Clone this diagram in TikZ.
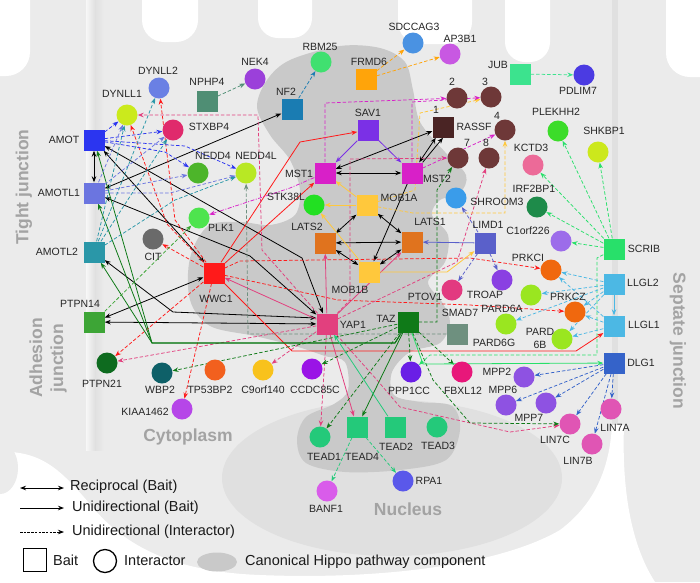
\documentclass[tikz,border=0pt]{standalone}
\usepackage{fontspec}
\setmainfont{Liberation Sans}
\usetikzlibrary{arrows.meta,calc,shapes.geometric}
\pgfdeclarelayer{bg}\pgfdeclarelayer{edges}
\pgfsetlayers{bg,edges,main}
\definecolor{cellgray}{HTML}{EBEBEB}
\definecolor{nucgray}{HTML}{E0E0E0}
\definecolor{blob}{HTML}{C9C9C9}
\definecolor{regtext}{HTML}{A3A3A3}
\definecolor{cAMOT}{HTML}{2B35F0}
\definecolor{cAMOTLa}{HTML}{6B75E0}
\definecolor{cAMOTLb}{HTML}{2A97A8}
\definecolor{cPTPNa}{HTML}{3DA536}
\definecolor{cPTPNb}{HTML}{0E6B1F}
\definecolor{cWBP}{HTML}{0E6068}
\definecolor{cTPBP}{HTML}{F2601E}
\definecolor{cCnine}{HTML}{F8C21C}
\definecolor{cCCDC}{HTML}{9A14E6}
\definecolor{cPPP}{HTML}{6A1EE6}
\definecolor{cFBXL}{HTML}{E8177A}
\definecolor{cKIAA}{HTML}{B646E8}
\definecolor{cDYNb}{HTML}{6A80E4}
\definecolor{cDYNa}{HTML}{CBEA1C}
\definecolor{cNPHP}{HTML}{4F8E74}
\definecolor{cSTX}{HTML}{E02A6C}
\definecolor{cNEDD}{HTML}{4DB52A}
\definecolor{cNEDDL}{HTML}{B8E824}
\definecolor{cNEK}{HTML}{9B40DA}
\definecolor{cNF}{HTML}{1A7CB2}
\definecolor{cRBM}{HTML}{40E070}
\definecolor{cFRMD}{HTML}{FFA40A}
\definecolor{cSDC}{HTML}{4A92E2}
\definecolor{cAPB}{HTML}{C858E2}
\definecolor{cSAV}{HTML}{7B30E6}
\definecolor{cMST}{HTML}{D820C8}
\definecolor{cRASSF}{HTML}{4A2424}
\definecolor{cRASc}{HTML}{6E3838}
\definecolor{cJUB}{HTML}{3CE38E}
\definecolor{cPDL}{HTML}{4B3BE2}
\definecolor{cPLEK}{HTML}{3CDC2A}
\definecolor{cSHK}{HTML}{CCE81C}
\definecolor{cKCTD}{HTML}{EC6A98}
\definecolor{cIRF}{HTML}{1E8B4A}
\definecolor{cCorf}{HTML}{9C6CEA}
\definecolor{cSCRIB}{HTML}{28E06A}
\definecolor{cLLGL}{HTML}{4CB8E4}
\definecolor{cDLG}{HTML}{3563C9}
\definecolor{cPRKC}{HTML}{F0680E}
\definecolor{cTROAP}{HTML}{8A40E2}
\definecolor{cPARD}{HTML}{9AE620}
\definecolor{cLIMD}{HTML}{5A60CA}
\definecolor{cSHR}{HTML}{3A9CEA}
\definecolor{cSMAD}{HTML}{6E907F}
\definecolor{cMPP}{HTML}{8E52E2}
\definecolor{cLIN}{HTML}{E055B4}
\definecolor{cSTK}{HTML}{22E022}
\definecolor{cMOB}{HTML}{FFC83C}
\definecolor{cLATS}{HTML}{E0731E}
\definecolor{cWWC}{HTML}{FF1A1A}
\definecolor{cCIT}{HTML}{6A6A6A}
\definecolor{cPLK}{HTML}{4EE44E}
\definecolor{cYAP}{HTML}{E2407E}
\definecolor{cTAZ}{HTML}{0F7A18}
\definecolor{cPTOV}{HTML}{E23A80}
\definecolor{cTEAD}{HTML}{24C97A}
\definecolor{cBANF}{HTML}{D95CEA}
\definecolor{cRPA}{HTML}{5A58EA}
\begin{document}
\begin{tikzpicture}[x=1pt,y=-1pt,
  sq/.style={rectangle,minimum size=21pt,inner sep=0pt,fill=#1},
  ci/.style={circle,minimum size=21pt,inner sep=0pt,fill=#1},
  lab/.style={font=\fontsize{10.5}{12}\selectfont,inner sep=0pt,text=black!85},
  reg/.style={font=\fontsize{17.5}{20}\selectfont\bfseries,inner sep=0pt,text=regtext},
  leg/.style={font=\fontsize{14.5}{16}\selectfont,inner sep=0pt,anchor=west,text=black!90},
  uni/.style={line width=0.8pt,-{Stealth[length=6pt,width=4.5pt]}},
  rec/.style={line width=0.8pt,{Stealth[length=6pt,width=4.5pt]}-{Stealth[length=6pt,width=4.5pt]}},
  dsh/.style={line width=0.75pt,dash pattern=on 3.5pt off 2pt,-{Stealth[length=6pt,width=4.5pt]}}]
\useasboundingbox (0,0) rectangle (700,582);

% ---------------- background ----------------
\begin{pgfonlayer}{bg}
\begin{scope}
\clip (0,0) rectangle (700,582);
\fill[cellgray] (0,0) rectangle (700,582);
\fill[white,rounded corners=24pt] (-40,-40) rectangle (30,76);
\fill[white,rounded corners=22pt] (142,-40) rectangle (198,42);
\fill[white,rounded corners=20pt] (258,-40) rectangle (312,38);
\fill[white,rounded corners=22pt] (398,-40) rectangle (472,44);
\fill[white,rounded corners=20pt] (505,-40) rectangle (550,62);
\fill[white,rounded corners=24pt] (666,-40) rectangle (740,77);
\shade[left color=white!60!cellgray,right color=black!12] (86,0) rectangle (95,450);
\shade[left color=black!12,right color=cellgray] (95,0) rectangle (104,450);
\fill[black!12] (612,0) rectangle (618,430);
\fill[white] (0,452) .. controls (45,450) and (65,475) .. (95,510)
  .. controls (130,550) and (180,572) .. (260,575)
  .. controls (380,580) and (500,565) .. (560,530)
  .. controls (600,500) and (610,460) .. (612,425) -- (624,425)
  .. controls (622,480) and (628,540) .. (655,582) -- (0,582) -- cycle;
\fill[cellgray] (0,468) ellipse [x radius=18,y radius=26];
\fill[nucgray] (392,478) ellipse [x radius=170,y radius=78];
\fill[blob] plot[smooth cycle,tension=0.55] coordinates {
 (257,107) (267,80) (290,60) (340,46) (380,48) (405,62) (413,90) (420,122)
 (445,152) (466,175) (460,193) (440,200) (432,215) (448,235) (445,262)
 (428,282) (442,302) (450,322) (440,343) (410,352) (392,372) (394,395)
 (420,402) (452,406) (460,430) (446,460) (400,470) (345,472) (306,463)
 (297,440) (306,417) (334,404) (348,390) (345,362) (325,356) (295,346)
 (255,336) (210,326) (190,300) (190,258) (208,226) (240,222) (270,225)
 (295,215) (300,190) (290,160) (270,135)};
\end{scope}
\end{pgfonlayer}

% region labels
\node[reg,rotate=90] (tTight) at (24,187) {Tight junction};
\node[reg,rotate=90,align=center,font=\fontsize{17.5}{21}\selectfont\bfseries] (tAdh) at (48,358) {Adhesion\\junction};
\node[reg,rotate=-90] (tSept) at (678,341) {Septate junction};
\node[reg] (tCyto) at (188,437) {Cytoplasm};
\node[reg] (tNuc) at (408,509) {Nucleus};

% ---------------- nodes ----------------
\node[sq=cAMOT] (AMOT) at (94,140) {};
\node[sq=cAMOTLa] (AMOTL1) at (94,193) {};
\node[sq=cAMOTLb] (AMOTL2) at (94,252) {};
\node[sq=cPTPNa] (PTPN14) at (94,322) {};
\node[ci=cPTPNb] (PTPN21) at (107,363) {};
\node[ci=cWBP] (WBP2) at (162,373) {};
\node[ci=cTPBP] (TP53BP2) at (215,370) {};
\node[ci=cCnine] (C9orf140) at (263,370) {};
\node[ci=cCCDC] (CCDC85C) at (312,369) {};
\node[ci=cPPP] (PPP1CC) at (411,372) {};
\node[ci=cFBXL] (FBXL12) at (462,372) {};
\node[ci=cKIAA] (KIAA1462) at (182,409) {};
\node[ci=cDYNb] (DYNLL2) at (159,88) {};
\node[ci=cDYNa] (DYNLL1) at (127,115) {};
\node[sq=cNPHP] (NPHP4) at (207,101) {};
\node[ci=cSTX] (STXBP4) at (173,130) {};
\node[ci=cNEDD] (NEDD4) at (198,173) {};
\node[ci=cNEDDL] (NEDD4L) at (246,173) {};
\node[ci=cNEK] (NEK4) at (255,79) {};
\node[sq=cNF] (NF2) at (292,109) {};
\node[ci=cRBM] (RBM25) at (321,62) {};
\node[sq=cFRMD] (FRMD6) at (366,79) {};
\node[ci=cSDC] (SDCCAG3) at (413,43) {};
\node[ci=cAPB] (AP3B1) at (450,54) {};
\node[sq=cSAV] (SAV1) at (368,130) {};
\node[sq=cMST] (MST1) at (325,173) {};
\node[sq=cMST] (MST2) at (412,173) {};
\node[sq=cRASSF] (RASSF) at (443,127) {};
\node[ci=cRASc] (R2) at (457,98) {};
\node[ci=cRASc] (R3) at (491,97) {};
\node[ci=cRASc] (R4) at (505,130) {};
\node[ci=cRASc] (R7) at (458,158) {};
\node[ci=cRASc] (R8) at (489,158) {};
\node[sq=cJUB] (JUB) at (520,74) {};
\node[ci=cPDL] (PDLIM7) at (584,75) {};
\node[ci=cPLEK] (PLEKHH2) at (558,131) {};
\node[ci=cSHK] (SHKBP1) at (598,152) {};
\node[ci=cKCTD] (KCTD3) at (533,165) {};
\node[ci=cIRF] (IRF2BP1) at (537,207) {};
\node[ci=cSHR] (SHROOM3) at (456,198) {};
\node[sq=cLIMD] (LIMD1) at (485,243) {};
\node[ci=cCorf] (C1orf226) at (561,241) {};
\node[sq=cSCRIB] (SCRIB) at (614,249) {};
\node[sq=cLLGL] (LLGL2) at (614,284) {};
\node[sq=cLLGL] (LLGL1) at (614,326) {};
\node[sq=cDLG] (DLG1) at (614,363) {};
\node[ci=cPRKC] (PRKCI) at (551,270) {};
\node[ci=cPRKC] (PRKCZ) at (575,312) {};
\node[ci=cTROAP] (TROAP) at (502,280) {};
\node[ci=cPTOV] (PTOV1) at (452,290) {};
\node[ci=cPARD] (PARD6A) at (531,295) {};
\node[ci=cPARD] (PARD6G) at (506,324) {};
\node[ci=cPARD] (PARD6B) at (562,339) {};
\node[sq=cSMAD] (SMAD7) at (457,334) {};
\node[ci=cMPP] (MPP2) at (524,377) {};
\node[ci=cMPP] (MPP6) at (506,405) {};
\node[ci=cMPP] (MPP7) at (546,403) {};
\node[ci=cLIN] (LIN7C) at (570,424) {};
\node[ci=cLIN] (LIN7A) at (611,409) {};
\node[ci=cLIN] (LIN7B) at (592,444) {};
\node[ci=cSTK] (STK38L) at (314,205) {};
\node[sq=cMOB] (MOB1A) at (367,205) {};
\node[sq=cLATS] (LATS2) at (325,243) {};
\node[sq=cLATS] (LATS1) at (412,242) {};
\node[sq=cMOB] (MOB1B) at (369,272) {};
\node[sq=cWWC] (WWC1) at (214,273) {};
\node[ci=cCIT] (CIT) at (153,239) {};
\node[ci=cPLK] (PLK1) at (199,218) {};
\node[sq=cYAP] (YAP1) at (327,324) {};
\node[sq=cTAZ] (TAZ) at (408,322) {};
\node[ci=cTEAD] (TEAD1) at (320,437) {};
\node[sq=cTEAD] (TEAD4) at (357,427) {};
\node[sq=cTEAD] (TEAD2) at (395,427) {};
\node[ci=cTEAD] (TEAD3) at (437,427) {};
\node[ci=cBANF] (BANF1) at (327,491) {};
\node[ci=cRPA] (RPA1) at (403,481) {};

% ---------------- labels ----------------
\node[lab] (tAMOT) at (64,140) {AMOT};
\node[lab] (tAMOTL1) at (59,193) {AMOTL1};
\node[lab] (tAMOTL2) at (57,252) {AMOTL2};
\node[lab] (tPTPN14) at (80,304) {PTPN14};
\node[lab] (tPTPN21) at (102,384) {PTPN21};
\node[lab] (tWBP2) at (160,390) {WBP2};
\node[lab] (tTP53BP2) at (210,390) {TP53BP2};
\node[lab] (tC9orf140) at (263,390) {C9orf140};
\node[lab] (tCCDC85C) at (315,390) {CCDC85C};
\node[lab] (tPPP1CC) at (409,391) {PPP1CC};
\node[lab] (tFBXL12) at (463,391) {FBXL12};
\node[lab] (tKIAA1462) at (145,412) {KIAA1462};
\node[lab] (tDYNLL2) at (158,71) {DYNLL2};
\node[lab] (tDYNLL1) at (122,94) {DYNLL1};
\node[lab] (tNPHP4) at (207,82) {NPHP4};
\node[lab] (tSTXBP4) at (209,127) {STXBP4};
\node[lab] (tNEDD4) at (213,156) {NEDD4};
\node[lab] (tNEDD4L) at (256,156) {NEDD4L};
\node[lab] (tNEK4) at (255,62) {NEK4};
\node[lab] (tNF2) at (286,92) {NF2};
\node[lab] (tRBM25) at (320,47) {RBM25};
\node[lab] (tFRMD6) at (369,62) {FRMD6};
\node[lab] (tSDCCAG3) at (414,27) {SDCCAG3};
\node[lab] (tAP3B1) at (460,39) {AP3B1};
\node[lab] (tSAV1) at (368,113) {SAV1};
\node[lab] (tMST1) at (299,174) {MST1};
\node[lab] (tMST2) at (437,179) {MST2};
\node[lab] (tR1) at (436,110) {1};
\node[lab] (tRASSF) at (474,127) {RASSF};
\node[lab] (tR2) at (452,82) {2};
\node[lab] (tR3) at (485,82) {3};
\node[lab] (tR4) at (497,116) {4};
\node[lab] (tR7) at (467,143) {7};
\node[lab] (tR8) at (486,143) {8};
\node[lab] (tJUB) at (498,65) {JUB};
\node[lab] (tPDLIM7) at (578,91) {PDLIM7};
\node[lab] (tPLEKHH2) at (556,112) {PLEKHH2};
\node[lab] (tSHKBP1) at (604,131) {SHKBP1};
\node[lab] (tKCTD3) at (531,148) {KCTD3};
\node[lab] (tIRF2BP1) at (534,189) {IRF2BP1};
\node[lab] (tSHROOM3) at (497,202) {SHROOM3};
\node[lab] (tLIMD1) at (488,225) {LIMD1};
\node[lab] (tC1orf226) at (528,231) {C1orf226};
\node[lab] (tSCRIB) at (644,249) {SCRIB};
\node[lab] (tLLGL2) at (643,283) {LLGL2};
\node[lab] (tLLGL1) at (644,325) {LLGL1};
\node[lab] (tDLG1) at (641,363) {DLG1};
\node[lab] (tPRKCI) at (528,258) {PRKCI};
\node[lab] (tPRKCZ) at (568,297) {PRKCZ};
\node[lab] (tTROAP) at (485,295) {TROAP};
\node[lab] (tPTOV1) at (425,297) {PTOV1};
\node[lab] (tPARD6A) at (502,309) {PARD6A};
\node[lab] (tPARD6G) at (494,343) {PARD6G};
\node[lab,align=center,font=\fontsize{10.5}{13}\selectfont] (tPARD6B) at (540,338) {PARD\\6B};
\node[lab] (tSMAD7) at (460,313) {SMAD7};
\node[lab] (tMPP2) at (497,372) {MPP2};
\node[lab] (tMPP6) at (503,390) {MPP6};
\node[lab] (tMPP7) at (529,418) {MPP7};
\node[lab] (tLIN7C) at (555,440) {LIN7C};
\node[lab] (tLIN7A) at (615,428) {LIN7A};
\node[lab] (tLIN7B) at (578,461) {LIN7B};
\node[lab] (tSTK38L) at (286,197) {STK38L};
\node[lab] (tMOB1A) at (399,198) {MOB1A};
\node[lab] (tLATS2) at (307,227) {LATS2};
\node[lab] (tLATS1) at (430,222) {LATS1};
\node[lab] (tMOB1B) at (350,290) {MOB1B};
\node[lab] (tWWC1) at (216,299) {WWC1};
\node[lab] (tCIT) at (153,257) {CIT};
\node[lab] (tPLK1) at (221,228) {PLK1};
\node[lab] (tYAP1) at (353,325) {YAP1};
\node[lab] (tTAZ) at (386,319) {TAZ};
\node[lab] (tTEAD1) at (324,457) {TEAD1};
\node[lab] (tTEAD4) at (362,457) {TEAD4};
\node[lab] (tTEAD2) at (396,447) {TEAD2};
\node[lab] (tTEAD3) at (438,446) {TEAD3};
\node[lab] (tBANF1) at (326,509) {BANF1};
\node[lab] (tRPA1) at (429,481) {RPA1};

% ---------------- edges ----------------
\begin{pgfonlayer}{edges}
% black (bait)
\draw[rec] (AMOT) -- (AMOTL1);
\draw[rec] (AMOTL1) -- (NF2);
\draw[rec] (AMOT) -- (WWC1);
\draw[rec] (AMOT) -- (302,258) -- (YAP1);
\draw[rec] (AMOTL1) -- (250,256) -- (YAP1);
\draw[rec] (AMOTL2) -- (173,312) -- ($(YAP1.west)+(0,-6)$);
\draw[rec] (PTPN14) -- (YAP1);
\draw[rec] (PTPN14) -- (WWC1);
\draw[rec] (MST1) -- (MST2);
\draw[rec] (MST1) -- (RASSF);
\draw[rec] (MST2) -- (RASSF);
\draw[uni] (MST2.north east) -- (RASSF.south);
\draw[rec] (MOB1A) -- (LATS2);
\draw[rec] (MOB1A) -- (LATS1);
\draw[rec] (LATS2) -- (LATS1);
\draw[rec] (LATS2) -- (MOB1B);
\draw[rec] (LATS1) -- (MOB1B);
\draw[uni] (MST2) -- (MOB1B);
% SAV1
\draw[uni,cSAV] (SAV1) -- (MST1);
\draw[uni,cSAV] (SAV1) -- (MST2);
% WWC1
\draw[uni,cWWC] (WWC1) -- (300,142) -- (SAV1);
\draw[uni,cWWC] (WWC1) -- (MST1);
\draw[uni,cWWC] (WWC1) -- (292,351) -- (576,351) -- (LLGL1);
\draw[dsh,cWWC] (WWC1) -- (175,220) -- (DYNLL2);
\draw[dsh,cWWC] (WWC1) -- (167,224) -- (DYNLL1);
\draw[dsh,cWWC] (WWC1) -- (CIT);
\draw[dsh,cWWC] (WWC1) -- (PTPN21);
\draw[dsh,cWWC] (WWC1) -- (KIAA1462);
\draw[dsh,cWWC] (WWC1) -- (240,261) -- (470,258) -- (PRKCI);
\draw[dsh,cWWC] (WWC1) -- (338,300) -- (470,305) -- (PRKCZ);
% YAP1
\draw[uni,cYAP] (YAP1) -- (LATS2);
\draw[uni,cYAP] (YAP1) -- (LATS1);
\draw[uni,cYAP] (YAP1) -- (TEAD4);
\draw[uni,cYAP] (YAP1) -- (WWC1);
\draw[dsh,cYAP] (YAP1) -- (PTPN21);
\draw[dsh,cYAP] (YAP1) -- (C9orf140);
\draw[dsh,cYAP] (YAP1) -- (TEAD1);
\draw[dsh,cYAP] (YAP1) -- (377,380) -- (400,407) -- (510,432) -- (LIN7C);
\draw[dsh,cYAP] (YAP1) -- (262,250) -- (258,115) -- (DYNLL1);
\draw[dsh,cYAP] (YAP1) -- (350,300) -- (350,159) -- (R7);
\draw[dsh,cYAP] (YAP1) -- (457,262) -- (R8);
% TAZ
\draw[uni,cTAZ] (TAZ) -- (395,343) -- (152,343) -- (AMOT);
\draw[uni,cTAZ] (TAZ) -- (395,343) -- (152,343) -- (AMOTL1);
\draw[uni,cTAZ] (TAZ) -- (395,343) -- (152,343) -- (AMOTL2);
\draw[uni,cTAZ] (TAZ) -- (TEAD4);
\draw[dsh,cTAZ] (TAZ) -- (TEAD1);
\draw[dsh,cTAZ] (TAZ) -- (PPP1CC);
\draw[dsh,cTAZ] (TAZ) -- (FBXL12);
\draw[dsh,cTAZ] (TAZ) -- (WBP2);
\draw[dsh,cTAZ] (TAZ) -- (CCDC85C);
\draw[dsh,cTAZ] (TAZ) -- (433,380) -- (470,423) -- (LIN7C);
\draw[dsh,cTAZ] (TAZ.east) -- (437,322) -- (437,190) -- (R7);
% TEAD
\draw[uni,cTEAD] (TEAD2) -- (YAP1);
\draw[dsh,cTEAD] (TEAD4) -- (BANF1);
\draw[dsh,cTEAD] (TEAD4) -- (RPA1);
% others
\draw[dsh,cPTPNa] (PTPN14) -- (PLK1);
\draw[dsh,cSMAD] (SMAD7) -- (248,334) -- (NEDD4L);
\draw[uni,cLIMD] (LIMD1) -- (LATS1);
\draw[dsh,cLIMD] (LIMD1) -- (SHROOM3);
\draw[dsh,cLIMD] (LIMD1) -- (PTOV1);
\draw[dsh,cLIMD] (LIMD1) -- (TROAP);
\draw[uni,cMOB] (MOB1A) -- (STK38L);
\draw[uni,cMOB] (MOB1B) -- (STK38L);
\draw[uni,cMOB] (MOB1A) -- (MST1);
\draw[uni,cMOB] (MOB1B) -- (447,272) -- (LIMD1);
\draw[dsh,cMOB] (MOB1A) -- (413,213) -- (505,213) -- (R4);
\draw[dsh,cMOB] (MOB1A) -- (415,190) -- (420,113) -- (R3);
\draw[dsh,cMST] (MST1.north) -- (325,103) -- (R2);
\draw[dsh,cMST] (MST2.north) -- (412,102) -- (R3);
\draw[dsh,cMST] (MST2) -- (R4);
\draw[dsh,cMST,dash pattern=on 4pt off 1.5pt on 1pt off 1.5pt] (MST1) -- (290,188) -- (PLK1);
\draw[dsh,cFRMD] (FRMD6) -- (SDCCAG3);
\draw[dsh,cFRMD] (FRMD6) -- (AP3B1);
\draw[dsh,cNF] (NF2) -- (RBM25);
\draw[dsh,cNPHP] (NPHP4) -- (NEK4);
\draw[dsh,cJUB] (JUB) -- (PDLIM7);
% AMOT family
\draw[dsh,cAMOT] (AMOT) -- (DYNLL1);
\draw[dsh,cAMOT] (AMOT) -- (STXBP4);
\draw[dsh,cAMOT] (AMOT) -- (165,152) -- (NEDD4);
\draw[dsh,cAMOT] (AMOT) -- (185,146) -- (NEDD4L);
\draw[dsh,cAMOTLa] (AMOTL1) -- (DYNLL1);
\draw[dsh,cAMOTLa] (AMOTL1) -- (STXBP4);
\draw[dsh,cAMOTLa] (AMOTL1) -- (NEDD4);
\draw[dsh,cAMOTLa] (AMOTL1) -- (170,193) -- (NEDD4L);
\draw[dsh,cAMOTLb] (AMOTL2) -- (DYNLL2);
\draw[dsh,cAMOTLb] (AMOTL2) -- (DYNLL1);
\draw[dsh,cAMOTLb] (AMOTL2) -- (STXBP4);
\draw[dsh,cAMOTLb] (AMOTL2) -- (175,200) -- (NEDD4L);
% SCRIB
\foreach \t in {PLEKHH2,SHKBP1,KCTD3,IRF2BP1,C1orf226}
  \draw[dsh,cSCRIB] (SCRIB) -- (\t);
\draw[dsh,cSCRIB] (SCRIB) -- (597,258) -- (597,355) -- (430,355) -- (PPP1CC);
\draw[uni,cSCRIB] (TAZ) -- (423,364) -- (DLG1);
% LLGL
\foreach \t in {PRKCI,PARD6A,PARD6G,PRKCZ,PARD6B}
  \draw[dsh,cLLGL] (LLGL2) -- (\t);
\draw[uni,cLLGL] (LLGL2) -- (LLGL1);
\foreach \t in {PRKCI,PRKCZ,PARD6B}
  \draw[dsh,cLLGL] (LLGL1) -- (\t);
% DLG1
\foreach \t in {MPP2,MPP6,MPP7,LIN7C,LIN7B,LIN7A}
  \draw[dsh,cDLG] (DLG1) -- (\t);
\end{pgfonlayer}

% ---------------- legend ----------------
\coordinate (la) at (20,488); \coordinate (lb) at (64,488);
\coordinate (lc) at (20,508); \coordinate (ld) at (64,508);
\coordinate (le) at (20,532); \coordinate (lf) at (64,532);
\draw[rec,line width=1pt] (la) -- (lb);
\draw[uni,line width=1pt] (lc) -- (ld);
\draw[dsh,line width=0.8pt,dash pattern=on 2.5pt off 1.2pt] (le) -- (lf);
\node[leg] (legR) at (70,487) {Reciprocal (Bait)};
\node[leg] (legU) at (72,508) {Unidirectional (Bait)};
\node[leg] (legI) at (72,532) {Unidirectional (Interactor)};
\node[draw=black,line width=1.3pt,minimum size=23pt,inner sep=0pt] (legSq) at (35,560) {};
\node[leg] (legBait) at (53,560) {Bait};
\node[circle,draw=black,line width=1.3pt,minimum size=23pt,inner sep=0pt] (legCi) at (105,561) {};
\node[leg] (legInt) at (124,561) {Interactor};
\node[ellipse,fill=blob,minimum width=40pt,minimum height=19pt,inner sep=0pt] (legEl) at (217,562) {};
\node[leg] (legCan) at (245,562) {Canonical Hippo pathway component};
\end{tikzpicture}
\end{document}
